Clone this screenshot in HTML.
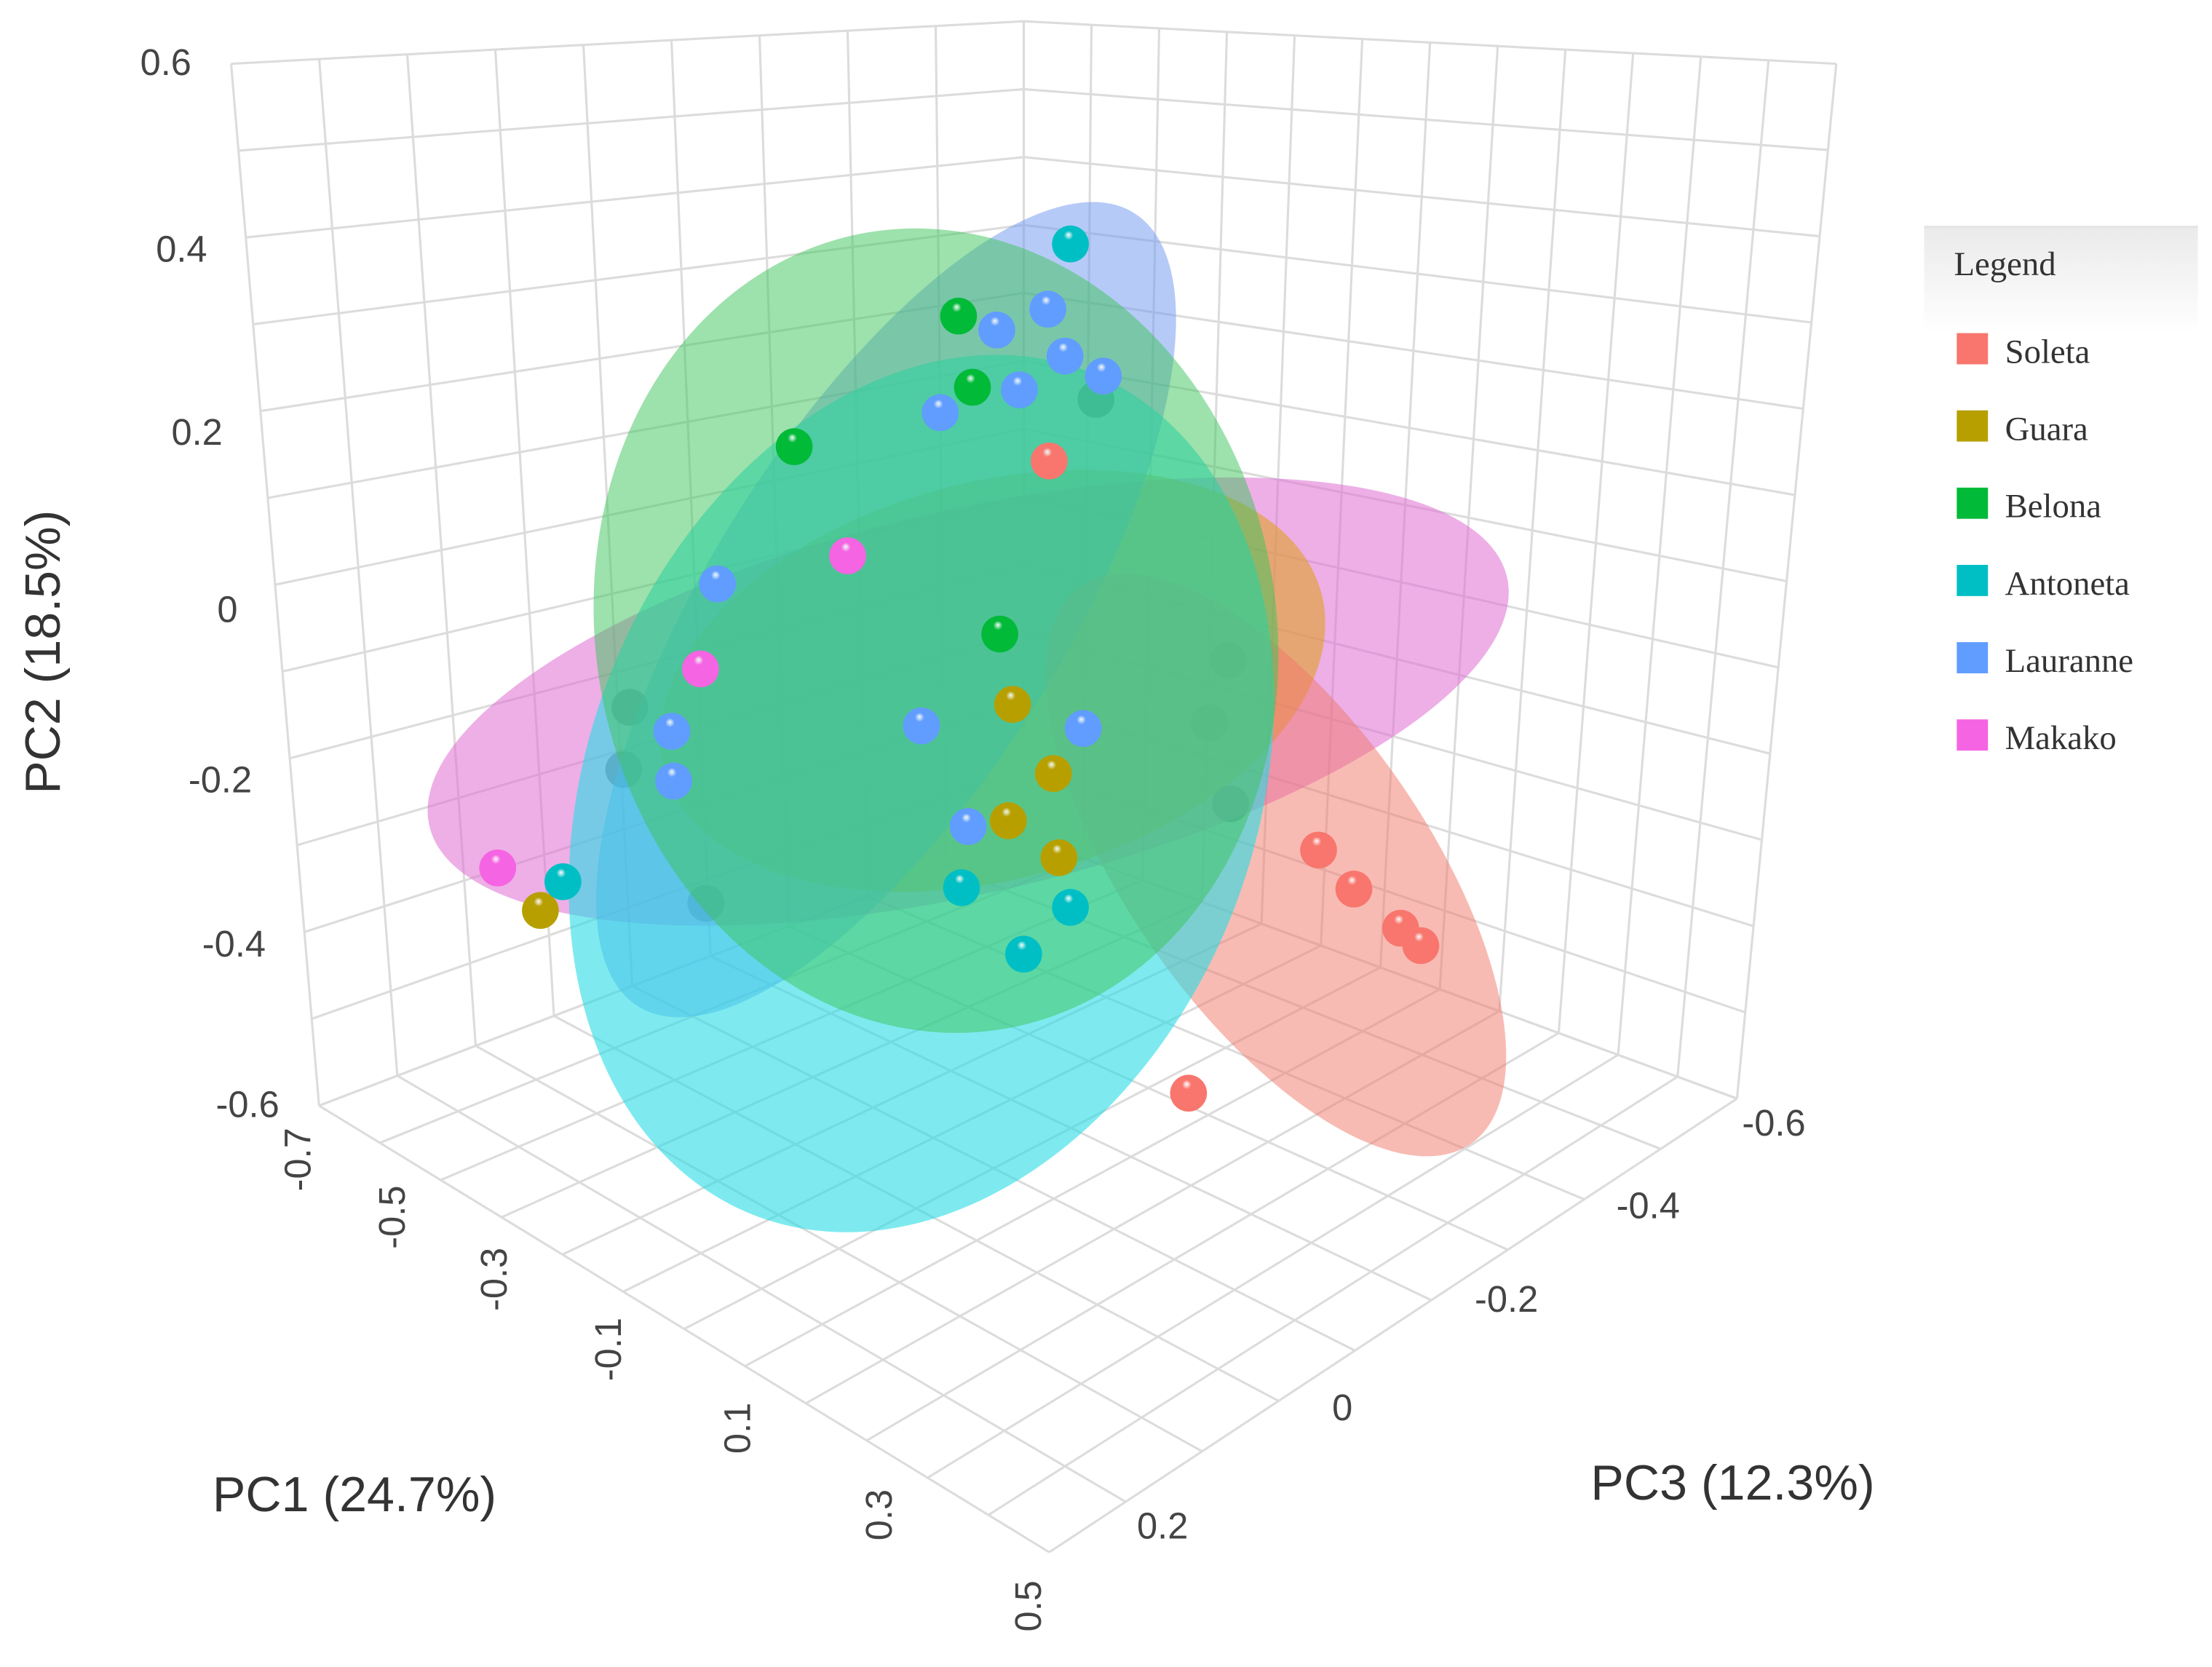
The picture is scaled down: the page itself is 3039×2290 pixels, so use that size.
<!DOCTYPE html>
<html><head><meta charset="utf-8"><style>
html,body{margin:0;padding:0;background:#fff;}
svg{display:block;}
.tick{font-family:"Liberation Sans",sans-serif;font-size:26px;fill:#444;}
.title{font-family:"Liberation Sans",sans-serif;font-size:35px;fill:#333;}
.leg{font-family:"Liberation Serif",serif;font-size:24px;fill:#333;}
</style></head><body>
<svg id="chart" width="3039" height="2290" viewBox="0 0 1560 1176" preserveAspectRatio="none" xmlns="http://www.w3.org/2000/svg">
<defs id="defs">
<linearGradient id="legShade" x1="0" y1="0" x2="0" y2="1"><stop offset="0" stop-color="#eaeaea"/><stop offset="1" stop-color="#fff"/></linearGradient>
</defs>
<g id="grid"></g>
<g id="behind"></g>
<g id="ellipses"></g>
<g id="points"></g>
<g id="ticks"></g>
<text class="title" transform="translate(42,460) rotate(-90)" text-anchor="middle">PC2 (18.5%)</text>
<text class="title" x="250" y="1066" text-anchor="middle">PC1 (24.7%)</text>
<text class="title" x="1222" y="1058" text-anchor="middle">PC3 (12.3%)</text>
<g id="legend">
<rect x="1357" y="160" width="193" height="75" fill="url(#legShade)"/>
<line x1="1357" y1="160" x2="1550" y2="160" stroke="#e4e4e4" stroke-width="1.5"/>
<text class="leg" x="1378" y="194">Legend</text>
</g>
</svg>
<script>
const groups=['Soleta','Guara','Belona','Antoneta','Lauranne','Makako'];
const groupColors=['#F8766D','#B79F00','#00BA38','#00BFC4','#619CFF','#F564E3'];
const pc1Ticks=[-0.7,-0.5,-0.3,-0.1,0.1,0.3,0.5];
const pc2Ticks=[0.6,0.4,0.2,0,-0.2,-0.4,-0.6];
const pc3Ticks=[-0.6,-0.4,-0.2,0,0.2];
// points
const ptGroup=[0,0,0,0,0,0,0, 1,1,1,1,1,1, 2,2,2,2,2, 3,3,3,3,3,3,3, 4,4,4,4,4,4,4,4,4,4,4,4,4,4, 5,5,5];
const ptPC1=[0.123,0.189,0.247,0.324,0.357,0.352,-0.576, 0.063,0.130,0.056,0.139,-0.713,-0.566, -0.026,-0.003,-0.296,0.042,0.421, 0.158,-0.676,-0.021,0.158,0.081,-0.441,0.200, 0.121,0.037,0.149,0.212,0.074,-0.056,-0.422,-0.497,-0.494,-0.087,0.179,-0.010,0.417,0.386, -0.208,-0.783,-0.450];
const ptPC2=[0.321,-0.273,-0.293,-0.305,-0.311,-0.309,-0.334, 0.015,-0.036,-0.122,-0.129,-0.555,-0.258, 0.424,0.352,0.158,0.087,0.054, 0.586,-0.506,-0.232,-0.178,-0.265,-0.430,0.425, 0.495,0.435,0.453,0.457,0.382,0.300,-0.054,-0.256,-0.312,-0.074,0.037,-0.157,0.217,0.132, 0.070,-0.536,-0.164];
const ptPC3=[0,-0.3,-0.3,-0.3,-0.3,0,0, 0,0,0,0,0,0, 0,0,0,0,0, 0,0,0,0,0,0,0, 0,0,0,0,0,0,0,0,0,0,0,0,0,0, 0,0,0];
const ptHidden=[0,0,0,0,0,0,1, 0,0,0,0,0,1, 0,0,0,0,1, 0,0,0,0,0,1,1, 0,0,0,0,0,0,0,0,0,0,0,0,1,1, 0,0,0];
// ellipsoids (draw order back to front)
const ellGroup=[5,1,4,0,3,2];
const ellPC1=[-0.010,0.030,-0.145,0.119,-0.087,-0.063];
const ellPC2=[-0.013,0.028,0.035,-0.320,-0.152,0.046];
const ellPC3=[0,0,0,-0.3,0,0];
const ellRx=[390,240,330,240,320,240];
const ellRy=[135,140,125,105,235,285];
const ellAngle=[-13,-15,-58,55,-68,-10];
const ellFill=['rgba(222,110,210,0.55)','rgba(225,160,40,0.6)','rgba(110,150,240,0.5)','rgba(240,120,105,0.5)','rgba(40,220,228,0.6)','rgba(60,195,90,0.5)'];

const NS='http://www.w3.org/2000/svg';
function mk(tag,attrs,parent){const e=document.createElementNS(NS,tag);for(const k in attrs)e.setAttribute(k,attrs[k]);parent.appendChild(e);return e;}
function proj(p1,p2,p3){
  return [225+(p1+0.7)*429.2+(p3-0.3)*(-538.9), 780+(p1+0.7)*262.5+(p3-0.3)*355.6-(p2+0.6)*612.5];
}
const C={'000':[225,780],'100':[740,1095],'101':[1225,775],'001':[722,590],'010':[163,45],'110':[748,150],'111':[1295,45],'011':[722,15]};
function box(p1,p2,p3){
  const u=(p1+0.7)/1.2,v=(p2+0.6)/1.2,w=(0.3-p3)/0.9;
  let x=0,y=0;
  for(const a of [0,1])for(const b of [0,1])for(const c of [0,1]){
    const wt=(a?u:1-u)*(b?v:1-v)*(c?w:1-w);const P=C[''+a+b+c];x+=wt*P[0];y+=wt*P[1];}
  return [x,y];
}
const grid=document.getElementById('grid');
function gl(A,B){const l=mk('line',{x1:A[0],y1:A[1],x2:B[0],y2:B[1],stroke:'#dcdcdc','stroke-width':1.6},grid);

}
for(let i=0;i<=12;i++){const p1=-0.7+i*0.1;
  gl(box(p1,-0.6,0.3),box(p1,-0.6,-0.6));
  gl(box(p1,-0.6,-0.6),box(p1,0.6,-0.6));}
for(let i=0;i<=9;i++){const p3=0.3-i*0.1;
  gl(box(-0.7,-0.6,p3),box(0.5,-0.6,p3));
  gl(box(-0.7,-0.6,p3),box(-0.7,0.6,p3));}
for(let i=0;i<=12;i++){const p2=-0.6+i*0.1;
  gl(box(-0.7,p2,0.3),box(-0.7,p2,-0.6));
  gl(box(-0.7,p2,-0.6),box(0.5,p2,-0.6));}

const defs=document.getElementById('defs');
groupColors.forEach((c,i)=>{
  const g=mk('radialGradient',{id:'sph'+i,cx:'0.45',cy:'0.35',r:'0.7',fx:'0.45',fy:'0.25'},defs);
  mk('stop',{offset:'0','stop-color':'#ffffff','stop-opacity':'0.9'},g);
  mk('stop',{offset:'0.18','stop-color':c},g);
  mk('stop',{offset:'1','stop-color':c,'stop-opacity':'1'},g);
});
const behind=document.getElementById('behind'),pts=document.getElementById('points');
for(let i=0;i<ptGroup.length;i++){
  const [x,y]=proj(ptPC1[i],ptPC2[i],ptPC3[i]);
  const par=ptHidden[i]?behind:pts;
  const c=mk('circle',{cx:x.toFixed(1),cy:y.toFixed(1),r:13,fill:ptHidden[i]?'#5f6a6c':'url(#sph'+ptGroup[i]+')'},par);
  
  
}
const ell=document.getElementById('ellipses');
for(let i=0;i<ellGroup.length;i++){
  const [x,y]=proj(ellPC1[i],ellPC2[i],ellPC3[i]);
  const e=mk('ellipse',{cx:x.toFixed(1),cy:y.toFixed(1),rx:ellRx[i],ry:ellRy[i],fill:ellFill[i],transform:'rotate('+ellAngle[i]+' '+x.toFixed(1)+' '+y.toFixed(1)+')'},ell);
  
  
}
const tk=document.getElementById('ticks');
pc2Ticks.forEach(v=>{const [x,y]=box(-0.7,v-0.03*Math.sin(Math.PI*(v+0.6)/1.2),0.3);
  const t=mk('text',{x:(x-28).toFixed(1),y:(y+8).toFixed(1),'text-anchor':'end',class:'tick'},tk);t.textContent=v;
  
  });
pc1Ticks.forEach(v=>{const [x,y]=box(v-0.09*Math.sin(Math.PI*(v+0.7)/1.2),-0.6,0.3);const X=x-15,Y=y+38;
  const t=mk('text',{x:0,y:0,'text-anchor':'middle','dominant-baseline':'central',class:'tick',transform:'translate('+X.toFixed(1)+','+Y.toFixed(1)+') rotate(-90)'},tk);t.textContent=v;
  
  });
pc3Ticks.forEach(v=>{const [x,y]=box(0.5,-0.6,v-0.05*Math.sin(Math.PI*(v+0.6)/0.8));
  const t=mk('text',{x:(x+26).toFixed(1),y:(y+26).toFixed(1),'text-anchor':'middle',class:'tick'},tk);t.textContent=v;
  
  });
const leg=document.getElementById('legend');
groups.forEach((g,i)=>{const cy=246+i*54.5;
  const r=mk('rect',{x:1380,y:cy-11,width:22,height:22,fill:groupColors[i]},leg);
  
  
  const t=mk('text',{x:1414,y:cy+10,class:'leg'},leg);t.textContent=g;
  
  });
</script>
</body></html>
